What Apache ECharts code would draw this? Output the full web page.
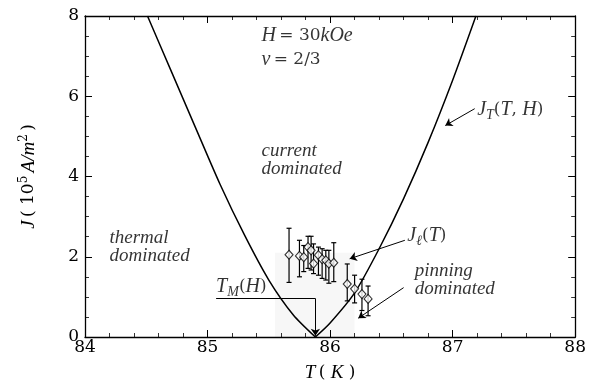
<!DOCTYPE html>
<html><head><meta charset="utf-8">
<script src="https://cdn.jsdelivr.net/npm/echarts@6/dist/echarts.min.js"></script>
<style>html,body{margin:0;padding:0;background:#fff}#c{width:589px;height:387px}</style>
</head><body><div id="c"></div>
<script>
// Curve J_T(T,H): left and right branches
const curveLeftT = [84.51, 84.7, 84.9, 85.1, 85.3, 85.5, 85.7, 85.88];
const curveLeftJ = [8.0, 6.65, 5.23, 3.82, 2.55, 1.42, 0.55, 0];
const curveRightT = [85.88, 86.0, 86.2, 86.4, 86.6, 86.8, 87.0, 87.19];
const curveRightJ = [0, 0.35, 1.1, 2.2, 3.45, 4.85, 6.4, 8.0];
// Measured points J_l(T) with error bars
const ptT  = [85.665, 85.75, 85.785, 85.82, 85.845, 85.865, 85.905, 85.935, 85.965, 85.99, 86.03, 86.14, 86.20, 86.26, 86.31];
const ptJ  = [2.05, 2.02, 1.99, 2.24, 2.16, 1.83, 2.04, 1.94, 1.91, 1.83, 1.85, 1.32, 1.20, 1.07, 0.95];
const errHi = [2.71, 2.41, 2.28, 2.51, 2.51, 2.32, 2.24, 2.20, 2.16, 2.16, 2.35, 1.82, 1.54, 1.44, 1.27];
const errLo = [1.36, 1.50, 1.63, 1.71, 1.67, 1.58, 1.54, 1.46, 1.42, 1.34, 1.38, 0.90, 0.85, 0.66, 0.53];
// Axis ticks
const xTicks = [84, 85, 86, 87, 88];
const yTicks = [0, 2, 4, 6, 8];

const FONT = 'DejaVu Serif';
const IFONT = 'Liberation Serif';
const rich = {
  i: {fontFamily: IFONT, fontStyle: 'italic', fontSize: 20, color: '#000'},
  r: {fontFamily: FONT, fontSize: 17, color: '#000'},
  sub: {fontFamily: IFONT, fontStyle: 'italic', fontSize: 14, color: '#000', padding: [11, 0, 0, 0]},
  t: {fontFamily: IFONT, fontStyle: 'italic', fontSize: 19, color: '#000', lineHeight: 18}
};

const annotations = [
  {pos: [85.44, 7.51], text: '{i|H} {r|= 30}{i|kOe}'},
  {pos: [85.44, 6.92], text: '{i|ν} {r|= 2/3}'},
  {pos: [85.44, 4.42], text: '{t|current}\n{t|dominated}'},
  {pos: [84.20, 2.25], text: '{t|thermal}\n{t|dominated}'},
  {pos: [86.69, 1.42], text: '{t|pinning}\n{t|dominated}'},
  {pos: [87.20, 5.66], text: '{i|J}{sub|T}{r|(}{i|T}{r|, }{i|H}{r|)}'},
  {pos: [86.63, 2.52], text: '{i|J}{sub|ℓ}{r|(}{i|T}{r|)}'},
  {pos: [85.07, 1.26], text: '{i|T}{sub|M}{r|(}{i|H}{r|)}'}
];
const arrows = [
  [[87.18, 5.69], [86.94, 5.27]],
  [[86.61, 2.41], [86.16, 1.95]],
  [[86.60, 1.23], [86.23, 0.47]],
  [[85.88, 0.96], [85.88, 0.03]]
];
const plainLines = [
  [[85.07, 0.96], [85.88, 0.96]]
];

const black = '#000';
const axisCommon = {
  type: 'value',
  axisLine: {show: true, onZero: false, lineStyle: {color: black, width: 1.3}},
  axisTick: {show: true, inside: true, length: 7, lineStyle: {color: black, width: 1}},
  minorTick: {show: true, length: 4, lineStyle: {color: black, width: 0.8}},
  splitLine: {show: false},
  minorSplitLine: {show: false}
};

const chart = echarts.init(document.getElementById('c'), null, {renderer: 'canvas'});
chart.setOption({
  animation: false,
  backgroundColor: '#fff',
  grid: {left: 85, right: 11, top: 16, bottom: 46, containLabel: false},
  xAxis: [
    Object.assign({}, axisCommon, {
      position: 'bottom', min: xTicks[0], max: xTicks[xTicks.length - 1], interval: 1,
      minorTick: Object.assign({}, axisCommon.minorTick, {splitNumber: 5}),
      axisLabel: {fontFamily: FONT, fontSize: 17, color: black, margin: 2},
      name: '{i|T} {r|( }{i|K}{r| )}', nameLocation: 'middle', nameGap: 26,
      nameTextStyle: {rich: {i: {fontFamily: IFONT, fontStyle: 'italic', fontSize: 19, color: black}, r: {fontFamily: FONT, fontSize: 17, color: black}}}
    }),
    Object.assign({}, axisCommon, {
      position: 'top', min: xTicks[0], max: xTicks[xTicks.length - 1], interval: 1,
      minorTick: Object.assign({}, axisCommon.minorTick, {splitNumber: 5}),
      axisLabel: {show: false}
    })
  ],
  yAxis: [
    Object.assign({}, axisCommon, {
      position: 'left', min: yTicks[0], max: yTicks[yTicks.length - 1], interval: 2,
      minorTick: Object.assign({}, axisCommon.minorTick, {splitNumber: 4}),
      axisLabel: {fontFamily: FONT, fontSize: 17, color: black, margin: 6},
      name: '{i|J} {r|( 10}{sup|5} {i|A/m}{sup|2} {r|)}', nameLocation: 'middle', nameRotate: 90, nameGap: 45,
      nameTextStyle: {rich: {
        i: {fontFamily: IFONT, fontStyle: 'italic', fontSize: 19, color: black},
        r: {fontFamily: FONT, fontSize: 17, color: black},
        sup: {fontFamily: FONT, fontSize: 12, color: black, padding: [0, 0, 10, 0]}
      }}
    }),
    Object.assign({}, axisCommon, {
      position: 'right', min: yTicks[0], max: yTicks[yTicks.length - 1], interval: 2,
      minorTick: Object.assign({}, axisCommon.minorTick, {splitNumber: 4}),
      axisLabel: {show: false}
    })
  ],
  series: [
    {
      name: 'J_T left', type: 'line', xAxisIndex: 0, yAxisIndex: 0,
      data: curveLeftT.map((t, k) => [t, curveLeftJ[k]]),
      smooth: 0.25, symbol: 'none', lineStyle: {color: black, width: 1.5}, z: 3,
      markArea: {silent: true, itemStyle: {color: 'rgba(0,0,0,0.03)'},
        data: [[{coord: [85.55, 0]}, {coord: [86.2, 2.1]}]]}
    },
    {
      name: 'J_T right', type: 'line', xAxisIndex: 0, yAxisIndex: 0,
      data: curveRightT.map((t, k) => [t, curveRightJ[k]]),
      smooth: 0.25, symbol: 'none', lineStyle: {color: black, width: 1.5}, z: 3
    },
    {
      name: 'errors', type: 'custom', xAxisIndex: 0, yAxisIndex: 0, z: 4,
      data: ptT.map((t, k) => [t, errLo[k], errHi[k]]),
      renderItem: function (params, api) {
        const lo = api.coord([api.value(0), api.value(1)]);
        const hi = api.coord([api.value(0), api.value(2)]);
        const w = 2.5;
        const st = {stroke: black, lineWidth: 1.2};
        return {type: 'group', children: [
          {type: 'line', shape: {x1: lo[0], y1: lo[1], x2: hi[0], y2: hi[1]}, style: st},
          {type: 'line', shape: {x1: lo[0] - w, y1: lo[1], x2: lo[0] + w, y2: lo[1]}, style: st},
          {type: 'line', shape: {x1: hi[0] - w, y1: hi[1], x2: hi[0] + w, y2: hi[1]}, style: st}
        ]};
      }
    },
    {
      name: 'J_l(T)', type: 'scatter', xAxisIndex: 0, yAxisIndex: 0, z: 5,
      data: ptT.map((t, k) => [t, ptJ[k]]),
      symbol: 'diamond', symbolSize: [8, 9],
      itemStyle: {color: '#fff', borderColor: black, borderWidth: 1.1}
    },
    {
      name: 'annotations', type: 'scatter', xAxisIndex: 0, yAxisIndex: 0, z: 6,
      symbolSize: 0, silent: true,
      data: annotations.map(a => ({value: a.pos, label: {show: true, position: 'right', distance: 0, color: black, formatter: a.text, rich: rich}})),
      markLine: {
        silent: true, animation: false,
        symbol: ['none', 'arrow'], symbolSize: 7,
        lineStyle: {color: black, width: 1, type: 'solid'},
        label: {show: false},
        data: arrows.map(a => [{coord: a[0]}, {coord: a[1]}]).concat(
          plainLines.map(a => [{coord: a[0], symbol: 'none'}, {coord: a[1], symbol: 'none'}]))
      }
    }
  ]
});
</script></body></html>
